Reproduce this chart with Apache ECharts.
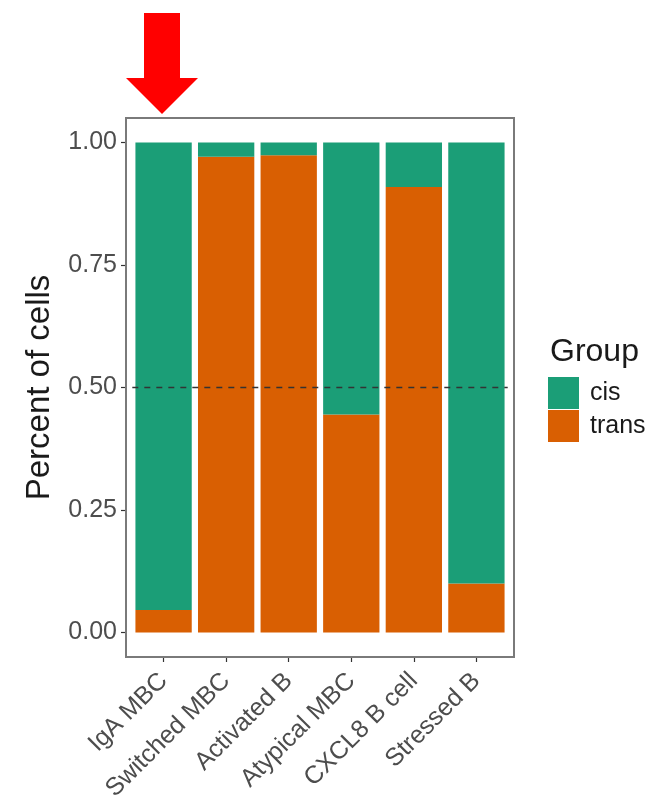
<!DOCTYPE html>
<html>
<head>
<meta charset="utf-8">
<script src="https://cdn.jsdelivr.net/npm/echarts@6/dist/echarts.min.js"></script>
<style>html,body{margin:0;padding:0;background:#fff}#c{width:654px;height:806px}</style>
</head>
<body>
<div id="c"></div>
<script>
const categories = ['IgA MBC','Switched MBC','Activated B','Atypical MBC','CXCL8 B cell','Stressed B'];
const transValues = [0.046, 0.971, 0.974, 0.445, 0.909, 0.100];
const cisValues   = [0.954, 0.029, 0.026, 0.555, 0.091, 0.900];
const yTicks = [0, 0.25, 0.5, 0.75, 1];
const groupNames = ['cis','trans'];
const refLine = 0.5;

const FONT = 'Liberation Sans, Arial, sans-serif';
const chart = echarts.init(document.getElementById('c'), null, {renderer:'canvas'});
chart.setOption({
  animation:false,
  backgroundColor:'#fff',
  textStyle:{fontFamily:FONT},
  title:{text:'Group', left:545, top:331, padding:5,
    textStyle:{fontFamily:FONT, fontSize:32, fontWeight:'normal', color:'#1a1a1a'}},
  legend:{
    data:groupNames, orient:'vertical', left:543, top:372, itemWidth:31, itemHeight:32, itemGap:1,
    textStyle:{fontFamily:FONT, fontSize:25, color:'#1a1a1a', padding:[0,0,0,6]}, icon:'rect'
  },
  grid:{left:132.3, right:146.3, top:118, bottom:149, containLabel:false},
  xAxis:{
    type:'category', data:categories,
    axisLine:{show:false, onZero:false},
    axisTick:{show:true, alignWithLabel:true, length:5, lineStyle:{color:'#333', width:1.2}},
    axisLabel:{rotate:45, margin:20, fontSize:25, color:'#4d4d4d', fontFamily:FONT, interval:0},
    splitLine:{show:false}
  },
  yAxis:{
    type:'value', min:-0.05, max:1.05, offset:6.3,
    name:'Percent of cells', nameLocation:'middle', nameGap:70,
    nameTextStyle:{fontSize:33, color:'#1a1a1a', fontFamily:FONT},
    axisLine:{show:false},
    axisTick:{show:true, length:5, customValues:yTicks, lineStyle:{color:'#333', width:1.2}},
    axisLabel:{fontSize:25, color:'#4d4d4d', margin:9, fontFamily:FONT, customValues:yTicks,
      formatter:v => v.toFixed(2)},
    splitLine:{show:false}
  },
  series:[
    {name:'trans', type:'bar', stack:'g', data:transValues, barCategoryGap:'10%',
     itemStyle:{color:'#d95f02'}},
    {name:'cis', type:'bar', stack:'g', data:cisValues, barCategoryGap:'10%',
     itemStyle:{color:'#1b9e77'},
     markLine:{silent:true, symbol:['none','none'], label:{show:false},
       lineStyle:{color:'#333', type:[6,6], width:1.3},
       data:[{yAxis:refLine}]}}
  ],
  color:['#1b9e77','#d95f02'],
  graphic:[
    {type:'rect', shape:{x:126, y:118, width:388, height:539}, style:{fill:'none', stroke:'#7a7a7a', lineWidth:2}, z:100},
    {type:'polygon', shape:{points:[[144,13],[180,13],[180,78],[198,78],[162,114],[126,78],[144,78]]}, style:{fill:'#ff0000'}, z:100}
  ]
});
</script>
</body>
</html>
